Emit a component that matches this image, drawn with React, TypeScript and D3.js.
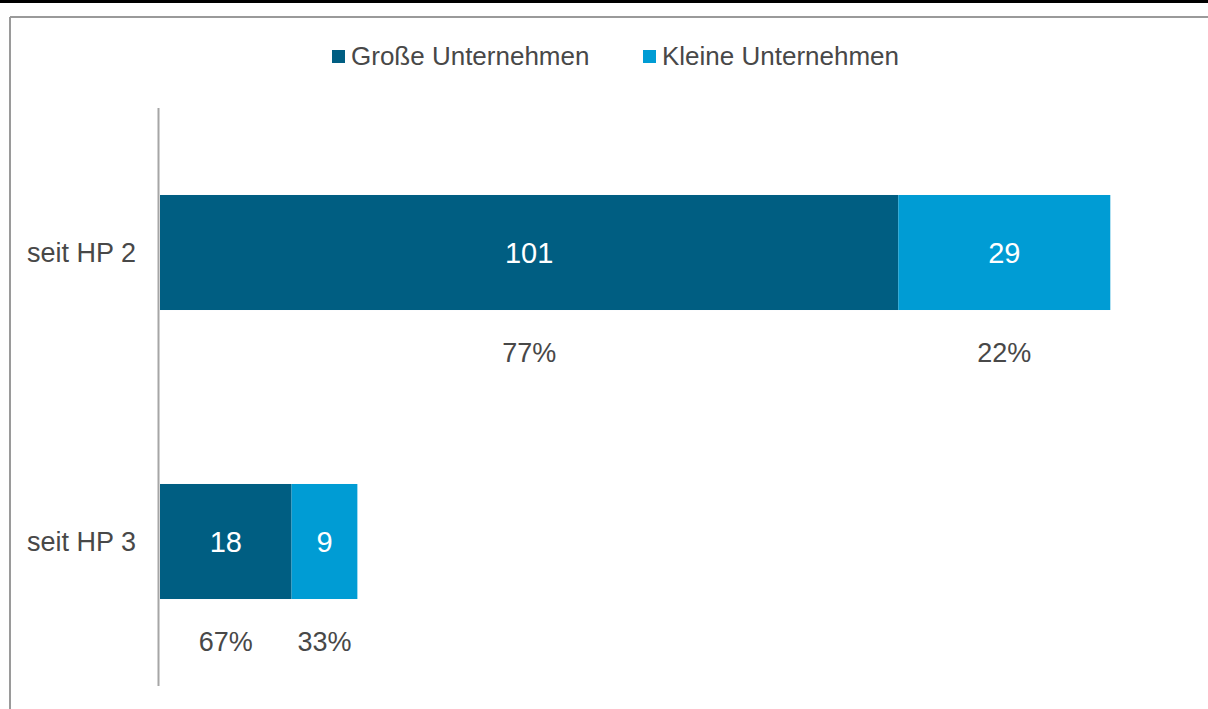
import React from "react";
import * as d3 from "d3";

const categories = ["seit HP 2", "seit HP 3"];
const seriesNames = ["Große Unternehmen", "Kleine Unternehmen"];
const grosse = [101, 18];
const kleine = [29, 9];
const grossePct = ["77%", "67%"];
const kleinePct = ["22%", "33%"];
const colors = ["#005E82", "#009CD4"];

const W = 1208;
const H = 709;
const FONT = "Liberation Sans, Arial, sans-serif";

export default function App() {
  const x0 = 160;
  const x = d3.scaleLinear().domain([0, 130]).range([x0, x0 + 130 * 7.31]);
  const y = d3
    .scaleBand<string>()
    .domain(categories)
    .range([108, 686])
    .paddingInner(0.602)
    .paddingOuter(0.301);

  const stacked = categories.map((c, i) => {
    const vals = [grosse[i], kleine[i]];
    const pcts = [grossePct[i], kleinePct[i]];
    let acc = 0;
    return vals.map((v, j) => {
      const seg = { cat: c, s: j, v, pct: pcts[j], x0: acc, x1: acc + v };
      acc += v;
      return seg;
    });
  });

  const legendItems = [
    { name: seriesNames[0], sx: 332 },
    { name: seriesNames[1], sx: 643 },
  ];

  return (
    <div style={{ position: "fixed", left: 0, top: 0 }}>
      <svg width={W} height={H} style={{ display: "block", background: "#fff" }}>
        <rect x={0} y={0} width={W} height={H} fill="#fff" />
        <line x1={0} x2={W} y1={1.5} y2={1.5} stroke="#000" strokeWidth={3} />
        <line x1={10} x2={W} y1={17} y2={17} stroke="#9a9a9a" strokeWidth={2} />
        <line x1={10} x2={10} y1={17} y2={H} stroke="#9a9a9a" strokeWidth={2} />

        {legendItems.map((l, i) => (
          <g key={l.name}>
            <rect x={l.sx} y={50} width={13} height={13} fill={colors[i]} />
            <text
              x={l.sx + 19}
              y={65}
              fontFamily={FONT}
              fontSize={26}
              fill="#484848"
            >
              {l.name}
            </text>
          </g>
        ))}

        {stacked.map((segs) =>
          segs.map((s) => {
            const yb = y(s.cat)!;
            const bw = y.bandwidth();
            const cx = (x(s.x0) + x(s.x1)) / 2;
            return (
              <g key={s.cat + s.s}>
                <rect
                  x={x(s.x0)}
                  y={yb}
                  width={x(s.x1) - x(s.x0)}
                  height={bw}
                  fill={colors[s.s]}
                />
                <text
                  x={cx}
                  y={yb + bw / 2}
                  dy="0.36em"
                  textAnchor="middle"
                  fontFamily={FONT}
                  fontSize={29}
                  fill="#fff"
                >
                  {s.v}
                </text>
                <text
                  x={cx}
                  y={yb + bw + 42}
                  dy="0.36em"
                  textAnchor="middle"
                  fontFamily={FONT}
                  fontSize={27}
                  fill="#484848"
                >
                  {s.pct}
                </text>
              </g>
            );
          })
        )}

        <line x1={158.5} x2={158.5} y1={108} y2={686} stroke="#a6a6a6" strokeWidth={2} />

        {categories.map((c) => (
          <text
            key={c}
            x={136}
            y={y(c)! + y.bandwidth() / 2}
            dy="0.36em"
            textAnchor="end"
            fontFamily={FONT}
            fontSize={27}
            fill="#484848"
          >
            {c}
          </text>
        ))}
      </svg>
    </div>
  );
}
